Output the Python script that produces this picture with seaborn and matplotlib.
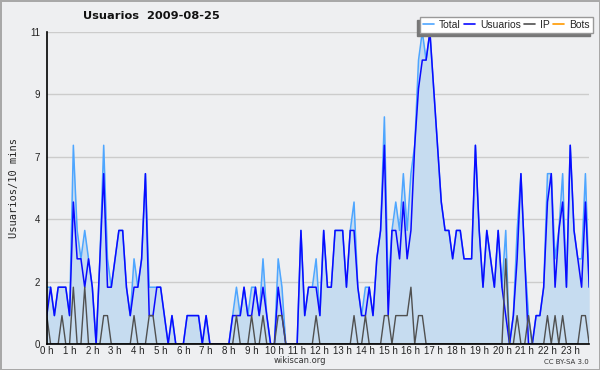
import numpy as np
import pandas as pd
import seaborn as sns
import matplotlib.pyplot as plt
from matplotlib.lines import Line2D

# 10-minute buckets for 2009-08-25 (144 values)
usuarios = [1, 2, 1, 2, 2, 2, 1, 5, 3, 3, 2, 3, 2, 0, 3, 6, 2, 2, 3, 4, 4, 2, 1, 2,
            2, 3, 6, 1, 1, 2, 2, 1, 0, 1, 0, 0, 0, 1, 1, 1, 1, 0, 1, 0, 0, 0, 0, 0,
            0, 1, 1, 1, 2, 1, 1, 2, 1, 2, 1, 0, 0, 2, 1, 0, 0, 0, 0, 4, 1, 2, 2, 2,
            1, 4, 2, 2, 4, 4, 4, 2, 4, 4, 2, 1, 1, 2, 1, 3, 4, 7, 1, 4, 4, 3, 5, 3,
            4, 7, 9, 10, 10, 11, 9, 7, 5, 4, 4, 3, 4, 4, 3, 3, 3, 7, 4, 2, 4, 3, 2, 4,
            2, 1, 0, 1, 3, 6, 3, 0, 0, 1, 1, 2, 5, 6, 2, 4, 5, 2, 7, 4, 3, 2, 5, 2]
ip = [1, 0, 0, 0, 1, 0, 0, 2, 0, 0, 2, 0, 0, 0, 0, 1, 1, 0, 0, 0, 0, 0, 0, 1,
      0, 0, 0, 1, 1, 0, 0, 0, 0, 0, 0, 0, 0, 0, 0, 0, 0, 0, 0, 0, 0, 0, 0, 0,
      0, 0, 1, 0, 0, 0, 1, 0, 0, 1, 0, 0, 0, 1, 1, 0, 0, 0, 0, 0, 0, 0, 0, 1,
      0, 0, 0, 0, 0, 0, 0, 0, 0, 1, 0, 0, 1, 0, 0, 0, 0, 1, 1, 0, 1, 1, 1, 1,
      2, 0, 1, 1, 0, 0, 0, 0, 0, 0, 0, 0, 0, 0, 0, 0, 0, 0, 0, 0, 0, 0, 0, 0,
      0, 3, 0, 0, 1, 0, 0, 1, 0, 0, 0, 0, 1, 0, 1, 0, 1, 0, 0, 0, 0, 1, 1, 0]
total = [2, 2, 1, 2, 2, 2, 1, 7, 4, 3, 4, 3, 2, 0, 3, 7, 3, 2, 3, 4, 4, 2, 1, 3,
         2, 3, 6, 2, 2, 2, 2, 1, 0, 1, 0, 0, 0, 1, 1, 1, 1, 0, 1, 0, 0, 0, 0, 0,
         0, 1, 2, 1, 2, 1, 2, 2, 1, 3, 1, 0, 0, 3, 2, 0, 0, 0, 0, 4, 1, 2, 2, 3,
         1, 4, 2, 2, 4, 4, 4, 2, 4, 5, 2, 1, 2, 2, 1, 3, 4, 8, 2, 4, 5, 4, 6, 4,
         6, 7, 10, 11, 10, 11, 9, 7, 5, 4, 4, 3, 4, 4, 3, 3, 3, 7, 4, 2, 4, 3, 2, 4,
         2, 4, 0, 1, 4, 6, 3, 1, 0, 1, 1, 2, 6, 6, 3, 4, 6, 2, 7, 4, 3, 3, 6, 2]
bots = [0] * 144

hour_labels = [f"{h} h" for h in range(24)]
ytick_values = [0, 2.2, 4.4, 6.6, 8.8, 11]
ytick_labels = ["0", "2", "4", "7", "9", "11"]

series_colors = {"Total": "#4ea6ff", "Usuarios": "#0a0aff", "IP": "#505050", "Bots": "#ff9900"}

df = pd.DataFrame({
    "hora": np.arange(144) / 6,
    "Total": total,
    "Usuarios": usuarios,
    "IP": ip,
    "Bots": bots,
})

sns.set_style("white")
bg = "#eeeff1"
tick_font = "Liberation Sans"
fig = plt.figure(figsize=(6, 3.7), dpi=100, facecolor=bg)
fig.patch.set_edgecolor("#a8a8a8")
fig.patch.set_linewidth(2)
ax = fig.add_axes([0.078, 0.0703, 0.904, 0.844])
ax.set_facecolor(bg)

ax.fill_between(df["hora"], df["Total"], color="#c6dcf0", zorder=1, linewidth=0)
sns.lineplot(data=df, x="hora", y="Bots", color=series_colors["Bots"], lw=1, ax=ax, zorder=1.5)
sns.lineplot(data=df, x="hora", y="Total", color=series_colors["Total"], lw=1.1, ax=ax, zorder=2)
sns.lineplot(data=df, x="hora", y="Usuarios", color=series_colors["Usuarios"], lw=1.1, ax=ax, zorder=3)
sns.lineplot(data=df, x="hora", y="IP", color=series_colors["IP"], lw=1, ax=ax, zorder=4)

ax.set_xlim(0, 143 / 6)
ax.set_ylim(0, 11)
ax.set_xticks(np.arange(24))
ax.set_xticklabels(hour_labels, fontsize=7, family=tick_font, color="#222222")
ax.set_xticks(np.arange(144) / 6, minor=True)
ax.set_yticks(ytick_values)
ax.set_yticklabels(ytick_labels, fontsize=7, family=tick_font, color="#222222")
ax.set_yticks(np.arange(0, 11.01, 0.55), minor=True)
ax.tick_params(axis="both", which="major", direction="out", length=4, width=1, color="#222222")
ax.tick_params(axis="x", which="major", pad=-2.5)
ax.tick_params(axis="y", which="major", pad=1)
ax.tick_params(axis="both", which="minor", direction="out", length=3, width=1, color="#222222")
ax.yaxis.grid(True, color="#cccccc", lw=1, zorder=0)
ax.set_axisbelow(True)
for side in ["top", "right"]:
    ax.spines[side].set_visible(False)
for side in ["left", "bottom"]:
    ax.spines[side].set_color("black")
    ax.spines[side].set_linewidth(1.2)
    ax.spines[side].set_zorder(5)
ax.set_xlabel("")
ax.set_ylabel("Usuarios/10 mins", family="DejaVu Sans Mono", fontsize=7.5, labelpad=8)

fig.text(0.252, 0.957, "Usuarios  2009-08-25", fontsize=8.2, fontweight="bold",
         ha="center", va="center", color="#111111")
fig.text(0.5, 0.025, "wikiscan.org", fontsize=6, ha="center", va="center", color="#333333")
fig.text(0.982, 0.022, "CC BY-SA 3.0", fontsize=5, ha="right", va="center", color="#333333")

handles = [Line2D([], [], color=c, lw=1.2) for c in series_colors.values()]
leg = fig.legend(handles, list(series_colors.keys()), loc="upper right",
                 bbox_to_anchor=(0.988, 0.954), ncol=4, frameon=True,
                 prop={"family": tick_font, "size": 7.5},
                 fancybox=False, handlelength=1.1, handletextpad=0.45, columnspacing=0.3,
                 borderpad=0.3, borderaxespad=0,
                 shadow={"color": "#777777", "ox": -2.2, "oy": -2.2, "alpha": 1})
leg.get_frame().set_edgecolor("#999999")
leg.get_frame().set_linewidth(1)

fig.savefig("out.png", dpi=100, facecolor=fig.get_facecolor())
